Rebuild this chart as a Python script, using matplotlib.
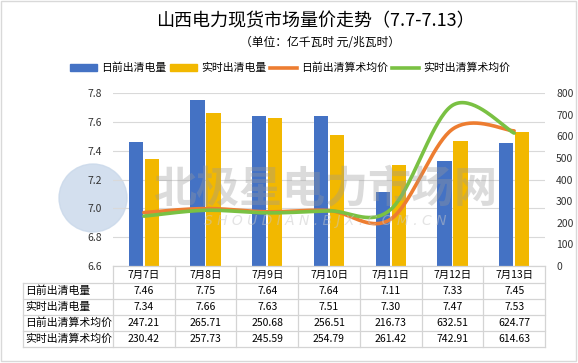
#!/usr/bin/env python
# coding: utf-8

import numpy as np
import matplotlib
matplotlib.use('Agg')
import matplotlib.pyplot as plt
from matplotlib.patches import Patch, Rectangle, Circle
from matplotlib.lines import Line2D

plt.rcParams['font.family'] = ['Noto Sans CJK SC', 'DejaVu Sans']
plt.rcParams['axes.unicode_minus'] = False

# -------------------------- 数据 --------------------------
dates = ['7月7日', '7月8日', '7月9日', '7月10日', '7月11日', '7月12日', '7月13日']
da_volume = [7.46, 7.75, 7.64, 7.64, 7.11, 7.33, 7.45]          # 日前出清电量
rt_volume = [7.34, 7.66, 7.63, 7.51, 7.30, 7.47, 7.53]          # 实时出清电量
da_price = [247.21, 265.71, 250.68, 256.51, 216.73, 632.51, 624.77]  # 日前出清算术均价
rt_price = [230.42, 257.73, 245.59, 254.79, 261.42, 742.91, 614.63]  # 实时出清算术均价
series_names = ['日前出清电量', '实时出清电量', '日前出清算术均价', '实时出清算术均价']

C_BLUE = '#4472C4'
C_YELLOW = '#F2B800'
C_ORANGE = '#ED7D31'
C_GREEN = '#7AC143'
GRID = '#D9D9D9'


def smooth(xs, ys, n=40):
    """Excel风格平滑线 (Catmull-Rom)"""
    xs = np.asarray(xs, float)
    ys = np.asarray(ys, float)
    px = np.concatenate([[xs[0]], xs, [xs[-1]]])
    py = np.concatenate([[ys[0]], ys, [ys[-1]]])
    out_x, out_y = [], []
    for i in range(1, len(px) - 2):
        t = np.linspace(0, 1, n)
        for arr, out in ((px, out_x), (py, out_y)):
            p0, p1, p2, p3 = arr[i - 1], arr[i], arr[i + 1], arr[i + 2]
            b1 = p1 + (p2 - p0) / 6
            b2 = p2 - (p3 - p1) / 6
            out.extend((1 - t) ** 3 * p1 + 3 * (1 - t) ** 2 * t * b1
                       + 3 * (1 - t) * t ** 2 * b2 + t ** 3 * p2)
    return np.array(out_x), np.array(out_y)


W, H = 578, 363
fig = plt.figure(figsize=(W / 100, H / 100), dpi=100)

# 水印圆形标志 (放在最底层)
bg = fig.add_axes([0, 0, 1, 1], zorder=-1)
bg.set_xlim(0, W)
bg.set_ylim(H, 0)
bg.axis('off')
bg.add_patch(Circle((93, 198), 34, color='#C9D8EA', alpha=0.8))

# 主图区域 (像素)
L, R, T, B = 113, 545, 93, 266
ax = fig.add_axes([L / W, 1 - B / H, (R - L) / W, (B - T) / H])
ax.patch.set_alpha(0)
x = np.arange(len(dates))
bw = 0.23
ax.bar(x - 0.13, da_volume, bw, color=C_BLUE, zorder=2)
ax.bar(x + 0.13, rt_volume, bw, color=C_YELLOW, zorder=2)
ax.set_xlim(-0.5, len(dates) - 0.5)
ax.set_ylim(6.6, 7.8)
ax.set_yticks(np.arange(6.6, 7.81, 0.2))
ax.set_yticklabels([f'{v:.1f}' for v in np.arange(6.6, 7.81, 0.2)])
ax.yaxis.grid(True, color=GRID, lw=0.8, zorder=0)
ax.set_axisbelow(True)
ax.set_xticks([])
for s in ax.spines.values():
    s.set_visible(False)
ax.tick_params(axis='y', length=0, labelsize=7.5, pad=8, labelcolor='#333333')

ax2 = ax.twinx()
ax2.set_ylim(0, 800)
ax2.set_yticks(range(0, 801, 100))
ax2.tick_params(axis='y', length=0, labelsize=7.5, pad=8, labelcolor='#333333')
for s in ax2.spines.values():
    s.set_visible(False)
sx, sy = smooth(x, da_price)
ax2.plot(sx, sy, color=C_ORANGE, lw=2.6, solid_capstyle='round')
sx, sy = smooth(x, rt_price)
ax2.plot(sx, sy, color=C_GREEN, lw=2.6, solid_capstyle='round')

# 标题
fig.text(315 / W, 1 - 21 / H, '山西电力现货市场量价走势（7.7-7.13）', ha='center', va='center',
         fontsize=13)
fig.text(320 / W, 1 - 42 / H, '（单位：亿千瓦时 元/兆瓦时）', ha='center', va='center',
         fontsize=8.5)

# 图例
handles = [Patch(color=C_BLUE), Patch(color=C_YELLOW),
           Line2D([], [], color=C_ORANGE, lw=2.6), Line2D([], [], color=C_GREEN, lw=2.6)]
fig.legend(handles, series_names, loc='center', bbox_to_anchor=(290 / W, 1 - 68 / H),
           ncol=4, frameon=False, fontsize=7.8, handlelength=2.5, handleheight=0.7,
           handletextpad=0.4, columnspacing=0.3)

# 数据表 (像素坐标覆盖层)
ov = fig.add_axes([0, 0, 1, 1], zorder=5)
ov.set_xlim(0, W)
ov.set_ylim(H, 0)
ov.axis('off')
ov.patch.set_alpha(0)

# 水印文字
ov.text(325, 188, '北极星电力市场网', ha='center', va='center', fontsize=31,
        fontweight='bold', style='italic', color='#9A9A9A', alpha=0.35)
ov.text(325, 221, 'S H O U D I A N . B J X . C O M . C N', ha='center', va='center',
        fontsize=10, style='italic', color='#C8C8C8', alpha=0.5, family='DejaVu Sans')

col_w = (R - L) / len(dates)
row_y = [266, 283, 299, 315, 331, 347]
lab_x = 23
lc = '#D4D4D4'
ov.plot([L, R], [row_y[0], row_y[0]], color=lc, lw=0.9)
for yy in row_y[1:]:
    ov.plot([lab_x, R], [yy, yy], color=lc, lw=0.9)
ov.plot([lab_x, lab_x], [row_y[1], row_y[-1]], color=lc, lw=0.9)
for i in range(len(dates) + 1):
    xx = L + i * col_w
    ov.plot([xx, xx], [row_y[0], row_y[-1]], color=lc, lw=0.9)

for i, d in enumerate(dates):
    ov.text(L + (i + 0.5) * col_w, (row_y[0] + row_y[1]) / 2, d, ha='center', va='center',
            fontsize=7.5)
rows = [da_volume, rt_volume, da_price, rt_price]
for r, (name, vals) in enumerate(zip(series_names, rows)):
    yc = (row_y[r + 1] + row_y[r + 2]) / 2
    ov.text(lab_x + 2, yc, name, ha='left', va='center', fontsize=7.8)
    for i, v in enumerate(vals):
        ov.text(L + (i + 0.5) * col_w, yc, f'{v:.2f}', ha='center', va='center', fontsize=7.5)

# 外边框
ov.add_patch(Rectangle((1, 1), W - 3, H - 3, fill=False, edgecolor='#D9D9D9', lw=1))

fig.savefig('out.png', dpi=100)
